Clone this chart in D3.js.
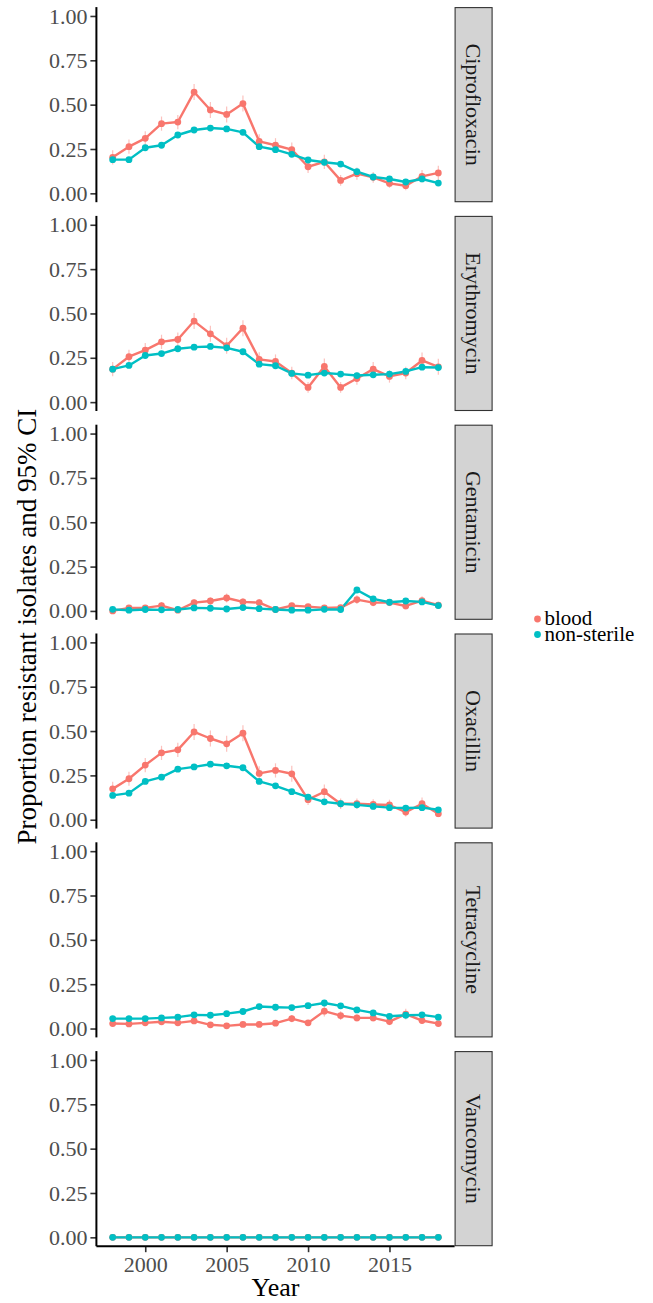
<!DOCTYPE html>
<html>
<head>
<meta charset="utf-8">
<script src="https://cdn.jsdelivr.net/npm/d3@7"></script>
<style>
  body { margin: 0; background: #fff; }
</style>
</head>
<body>
<div id="chart"></div>
<script>
// data
var years = d3.range(1998, 2019)
var drugs = ["Ciprofloxacin", "Erythromycin", "Gentamicin", "Oxacillin", "Tetracycline", "Vancomycin"]
var groups = ["blood", "non-sterile"]
var colours = ["#F8766D", "#00BFC4"]
var yTicks = [0, 0.25, 0.5, 0.75, 1]
var xTicks = [2000, 2005, 2010, 2015]

var ciproBlood = [0.203,0.263,0.31,0.393,0.402,0.571,0.47,0.445,0.506,0.293,0.271,0.246,0.15,0.177,0.073,0.111,0.09,0.056,0.043,0.096,0.115]
var ciproNonSterile = [0.19,0.19,0.257,0.271,0.329,0.357,0.368,0.363,0.344,0.263,0.246,0.22,0.188,0.175,0.165,0.122,0.092,0.081,0.064,0.081,0.058]
var erythroBlood = [0.186,0.256,0.293,0.34,0.353,0.457,0.385,0.318,0.417,0.241,0.229,0.164,0.083,0.201,0.083,0.133,0.186,0.145,0.164,0.235,0.199]
var erythroNonSterile = [0.186,0.207,0.263,0.274,0.301,0.31,0.314,0.306,0.284,0.214,0.205,0.162,0.152,0.164,0.158,0.15,0.154,0.158,0.173,0.197,0.195]
var gentaBlood = [0.0,0.017,0.017,0.03,0.004,0.047,0.056,0.073,0.051,0.047,0.008,0.03,0.024,0.017,0.019,0.064,0.047,0.047,0.028,0.058,0.032]
var gentaNonSterile = [0.009,0.004,0.008,0.006,0.008,0.017,0.015,0.011,0.019,0.013,0.008,0.004,0.004,0.009,0.008,0.118,0.068,0.049,0.056,0.051,0.03]
var oxaBlood = [0.174,0.231,0.308,0.377,0.394,0.495,0.458,0.428,0.488,0.261,0.278,0.259,0.113,0.158,0.09,0.09,0.086,0.083,0.043,0.09,0.034]
var oxaNonSterile = [0.137,0.15,0.216,0.24,0.285,0.298,0.313,0.304,0.293,0.216,0.191,0.158,0.128,0.101,0.09,0.084,0.075,0.068,0.066,0.068,0.056]
var tetraBlood = [0.028,0.026,0.032,0.038,0.032,0.043,0.021,0.015,0.023,0.023,0.03,0.056,0.032,0.098,0.073,0.06,0.06,0.039,0.081,0.045,0.028]
var tetraNonSterile = [0.056,0.056,0.056,0.06,0.064,0.077,0.075,0.084,0.096,0.124,0.12,0.118,0.129,0.144,0.128,0.105,0.088,0.069,0.075,0.077,0.064]
var vancoBlood = [0,0,0,0,0,0,0,0,0,0,0,0,0,0,0,0,0,0,0,0,0]
var vancoNonSterile = [0,0,0,0,0,0,0,0,0,0,0,0,0,0,0,0,0,0,0,0,0]

// half width of the 95% CI on the blood series (non-sterile ones are hidden under the points)
var ciproBloodCI = [0.04,0.04,0.04,0.04,0.04,0.045,0.045,0.045,0.045,0.04,0.04,0.04,0.035,0.04,0.03,0.035,0.03,0.025,0.025,0.035,0.04]
var erythroBloodCI = [0.04,0.04,0.04,0.04,0.04,0.045,0.045,0.045,0.045,0.04,0.04,0.035,0.03,0.045,0.03,0.035,0.04,0.035,0.035,0.045,0.045]
var gentaBloodCI = [0.01,0.015,0.015,0.02,0.01,0.02,0.02,0.025,0.02,0.02,0.01,0.015,0.015,0.015,0.015,0.025,0.02,0.02,0.02,0.025,0.02]
var oxaBloodCI = [0.04,0.04,0.04,0.04,0.04,0.045,0.045,0.045,0.045,0.04,0.04,0.045,0.03,0.04,0.03,0.03,0.03,0.03,0.025,0.035,0.02]
var tetraBloodCI = [0.01,0.01,0.01,0.012,0.01,0.012,0.01,0.008,0.01,0.01,0.012,0.02,0.015,0.03,0.025,0.02,0.02,0.02,0.03,0.02,0.015]
var vancoBloodCI = [0,0,0,0,0,0,0,0,0,0,0,0,0,0,0,0,0,0,0,0,0]

var series = [
  [ciproBlood, ciproNonSterile, ciproBloodCI],
  [erythroBlood, erythroNonSterile, erythroBloodCI],
  [gentaBlood, gentaNonSterile, gentaBloodCI],
  [oxaBlood, oxaNonSterile, oxaBloodCI],
  [tetraBlood, tetraNonSterile, tetraBloodCI],
  [vancoBlood, vancoNonSterile, vancoBloodCI]
]

var serif = "'Liberation Serif', 'Times New Roman', serif"
var W = 653, H = 1303
var left = 96.4, right = 454.6
var stripW = 37
var top0 = 7.1, panelH = 195.1, step = 208.8

var svg = d3.select("#chart").append("svg").attr("width", W).attr("height", H)
  .style("font-family", serif)

var x = d3.scaleLinear().domain([1997, 2019]).range([left, right])

drugs.forEach(function(drug, i){
  var top = top0 + i*step
  var y = d3.scaleLinear().domain([-0.05, 1.05]).range([top+panelH, top])
  var g = svg.append("g")

  // strip on the right
  g.append("rect").attr("x", right+0.5).attr("y", top+0.5).attr("width", stripW).attr("height", panelH-1)
    .attr("fill", "#d3d3d3").attr("stroke", "#333").attr("stroke-width", 1.1)
  g.append("text").text(drug)
    .attr("transform", "translate(" + (right+0.5+stripW/2) + "," + (top+panelH/2) + ") rotate(90)")
    .attr("text-anchor", "middle").attr("dy", "0.35em")
    .style("font-family", serif).style("font-size", "22px").attr("fill", "#1a1a1a")

  // y axis
  var yAxis = g.append("g").attr("transform", "translate(" + left + ",0)")
    .call(d3.axisLeft(y).tickValues(yTicks).tickFormat(d3.format(".2f")).tickSizeOuter(0).tickSize(6).tickPadding(3))
  yAxis.attr("font-family", serif).attr("font-size", 22)
  yAxis.select(".domain").remove()
  yAxis.selectAll(".tick line").attr("stroke", "#333").attr("stroke-width", 1.6)
  yAxis.selectAll(".tick text").style("font-family", serif).style("font-size", "22px").attr("fill", "#4d4d4d")
  g.append("line").attr("x1", left).attr("x2", left).attr("y1", top).attr("y2", top+panelH)
    .attr("stroke", "#000").attr("stroke-width", 2)

  var blood = series[i][0], nonSterile = series[i][1], ci = series[i][2]

  // CI error bars
  g.selectAll(".ci").data(years).enter().append("line").classed("ci", true)
    .attr("x1", d=>x(d)).attr("x2", d=>x(d))
    .attr("y1", (d,j)=>y(Math.min(1, blood[j]+ci[j])))
    .attr("y2", (d,j)=>y(Math.max(0, blood[j]-ci[j])))
    .attr("stroke", colours[0]).attr("stroke-opacity", 0.45).attr("stroke-width", 1.2)

  var line = d3.line().x((d,j)=>x(years[j])).y(d=>y(d))
  ;[blood, nonSterile].forEach(function(vals, k){
    g.append("path").datum(vals).attr("d", line).attr("fill", "none")
      .attr("stroke", colours[k]).attr("stroke-width", 2.4).attr("stroke-linejoin", "round")
  })
  ;[blood, nonSterile].forEach(function(vals, k){
    g.selectAll(".pt"+k).data(vals).enter().append("circle").classed("pt"+k, true)
      .attr("cx", (d,j)=>x(years[j])).attr("cy", d=>y(d)).attr("r", 3.4)
      .attr("fill", colours[k])
  })

  if (i == drugs.length-1) {
    var xAxis = g.append("g").attr("transform", "translate(0," + (top+panelH) + ")")
      .call(d3.axisBottom(x).tickValues(xTicks).tickFormat(d3.format("d")).tickSizeOuter(0).tickSize(6).tickPadding(4))
    xAxis.attr("font-family", serif).attr("font-size", 22)
    xAxis.select(".domain").remove()
    xAxis.selectAll(".tick line").attr("stroke", "#333").attr("stroke-width", 1.6)
    xAxis.selectAll(".tick text").style("font-family", serif).style("font-size", "22px").attr("fill", "#4d4d4d")
    g.append("line").attr("x1", left).attr("x2", right).attr("y1", top+panelH).attr("y2", top+panelH)
      .attr("stroke", "#000").attr("stroke-width", 2)
  }
})

// axis titles
svg.append("text").text("Year").attr("x", (left+right)/2).attr("y", 1296)
  .attr("text-anchor", "middle").style("font-family", serif).style("font-size", "26px")
svg.append("text").text("Proportion resistant isolates and 95% CI")
  .attr("transform", "translate(36," + (top0 + (5*step+panelH)/2) + ") rotate(-90)")
  .attr("text-anchor", "middle").style("font-family", serif).style("font-size", "27px")

// legend
var legend = svg.append("g").attr("transform", "translate(537.5,619)")
groups.forEach(function(name, k){
  var lg = legend.append("g").attr("transform", "translate(0," + (k*15.5) + ")")
  lg.append("circle").attr("r", 3.4).attr("fill", colours[k])
  lg.append("text").text(name).attr("x", 7).attr("dy", "0.3em")
    .style("font-family", serif).style("font-size", "21px")
})
</script>
</body>
</html>
